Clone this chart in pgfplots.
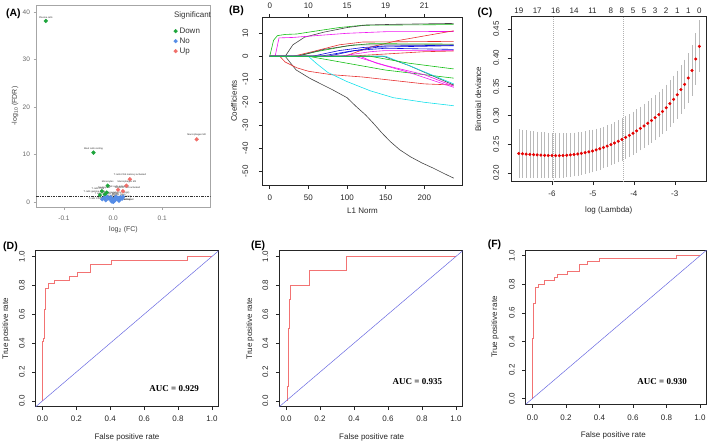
\documentclass[border=0pt]{standalone}
\usepackage{fontspec}
\setmainfont{Liberation Sans}
\newfontfamily\serifb{Liberation Serif}
\usepackage{pgfplots}
\pgfplotsset{compat=1.18}
\usepackage{pgfplotstable}

\definecolor{gDown}{RGB}{30,165,60}
\definecolor{bNo}{RGB}{85,140,230}
\definecolor{rUp}{RGB}{240,110,105}
\definecolor{rocred}{RGB}{242,115,115}
\definecolor{rocblue}{RGB}{105,105,225}
\definecolor{Rgreen}{RGB}{20,190,20}
\definecolor{Rred}{RGB}{230,50,50}
\definecolor{Rmag}{RGB}{240,20,240}
\definecolor{Rcyan}{RGB}{20,225,235}
\definecolor{Rblue}{RGB}{10,10,220}
\definecolor{Rblack}{RGB}{70,70,70}

\newcommand{\fs}[1]{\fontsize{#1}{#1}\selectfont}

\pgfplotsset{
  rbase/.style={scale only axis, axis line style={black!85, line width=0.5pt},
    tick align=outside, tick pos=left, major tick length=3.5pt,
    tick style={black!85, line width=0.5pt},
    tick label style={font=\fs{8}, text=black!85},
    yticklabel style={rotate=90, anchor=south},
    /pgf/number format/assume math mode=true},
  rocax/.style={rbase, xmin=-0.04, xmax=1.04, ymin=-0.04, ymax=1.04,
    xtick={0,0.2,0.4,0.6,0.8,1}, xticklabels={0.0,0.2,0.4,0.6,0.8,1.0},
    ytick={0,0.2,0.4,0.6,0.8,1}, yticklabels={0.0,0.2,0.4,0.6,0.8,1.0},
    yticklabel shift=4pt, xticklabel shift=2pt},
  bline/.style={line width=0.6pt, line join=round}
}

\pgfplotstableread{
x y e
-6.81 0.2340 0.0390
-6.72 0.2336 0.0387
-6.63 0.2331 0.0383
-6.54 0.2326 0.0380
-6.45 0.2321 0.0377
-6.36 0.2317 0.0373
-6.27 0.2313 0.0370
-6.18 0.2309 0.0367
-6.09 0.2307 0.0363
-6.00 0.2305 0.0360
-5.91 0.2304 0.0358
-5.82 0.2304 0.0356
-5.73 0.2306 0.0355
-5.64 0.2310 0.0353
-5.55 0.2316 0.0351
-5.46 0.2323 0.0349
-5.37 0.2332 0.0347
-5.28 0.2343 0.0345
-5.19 0.2355 0.0344
-5.10 0.2369 0.0342
-5.01 0.2385 0.0340
-4.92 0.2403 0.0338
-4.83 0.2423 0.0335
-4.74 0.2445 0.0333
-4.65 0.2469 0.0330
-4.56 0.2495 0.0332
-4.47 0.2523 0.0333
-4.38 0.2553 0.0335
-4.29 0.2585 0.0337
-4.20 0.2619 0.0338
-4.11 0.2655 0.0340
-4.02 0.2693 0.0343
-3.93 0.2733 0.0346
-3.84 0.2775 0.0349
-3.75 0.2819 0.0352
-3.66 0.2865 0.0355
-3.57 0.2913 0.0358
-3.48 0.2963 0.0361
-3.39 0.3015 0.0364
-3.30 0.3070 0.0367
-3.21 0.3135 0.0370
-3.12 0.3205 0.0376
-3.03 0.3280 0.0381
-2.94 0.3360 0.0387
-2.85 0.3450 0.0392
-2.76 0.3540 0.0398
-2.67 0.3650 0.0403
-2.58 0.3780 0.0409
-2.49 0.3980 0.0414
-2.40 0.4200 0.0420
}\cvtab

\begin{document}
\begin{tikzpicture}
\useasboundingbox (0,0) rectangle (709pt,-444pt);

% ---------------- (A) volcano ----------------
\begin{axis}[scale only axis, at={(36pt,-5.3pt)}, anchor=north west,
  width=174.7pt, height=202pt,
  xmin=-0.157, xmax=0.1986, ymin=-1.1, ymax=41.4,
  axis line style={black!35, line width=0.5pt},
  tick align=outside, tick pos=left, major tick length=2.5pt,
  tick style={black!35, line width=0.5pt},
  tick label style={font=\fs{6.5}, text=black!60},
  /pgf/number format/assume math mode=true,
  xtick={-0.1,0,0.1}, xticklabels={-0.1,0.0,0.1}, xticklabel shift=3pt,
  ytick={0,10,20,30,40},
  legend style={at={(rel axis cs:0.77,0.91)}, anchor=north west, draw=none, fill=none,
    font=\fs{8}, text=black!80, row sep=-1pt},
  legend cell align=left,
  legend image code/.code={\draw[mark repeat=2,mark phase=2,#1] plot coordinates {(0cm,0cm)(0.12cm,0cm)(0.24cm,0cm)};}
]
\addplot[only marks, mark=*, mark size=1.9pt, gDown] coordinates {
(-0.137,38.1) (-0.040,10.4) (-0.011,3.45) (-0.023,2.3) (-0.013,2.0) (-0.027,1.45) (-0.017,1.6)};
\addlegendentry{Down}
\addplot[only marks, mark=*, mark size=1.9pt, bNo] coordinates {
(-0.018,0.9) (-0.012,1.1) (-0.008,0.7) (-0.005,1.0) (-0.002,0.4) (0,0.2) (0.001,0.1)
(0.002,0.5) (0.004,0.8) (0.006,1.1) (0.008,0.6) (0.010,0.9) (0.012,0.3) (0.015,1.0)
(-0.022,0.6) (-0.015,0.4) (0.018,0.7) (0.020,1.1) (0.003,0.3) (-0.003,0.15) (0.0,0.05)};
\addlegendentry{No}
\addplot[only marks, mark=*, mark size=1.9pt, rUp] coordinates {
(0.170,13.2) (0.034,4.8) (0.027,3.45) (0.020,2.3) (0.010,2.6)};
\addlegendentry{Up}
\addplot[black!80, line width=0.5pt, dash pattern=on 2.5pt off 1.2pt on 0.6pt off 1.2pt, forget plot]
  coordinates {(-0.157,1.3) (0.1986,1.3)};
\begin{scope}[every node/.style={font=\fs{2.4}, text=black!85, inner sep=0.3pt, anchor=south}]
\node at (axis cs:-0.137,38.6) {Plasma cells};
\node at (axis cs:-0.040,10.9) {Mast cells resting};
\node at (axis cs:0.170,13.7) {Macrophages M0};
\node at (axis cs:0.034,5.3) {T cells CD4 memory activated};
\node at (axis cs:-0.011,3.95) {Monocytes};
\node at (axis cs:0.028,3.95) {Macrophages M1};
\node at (axis cs:0.029,2.75) {Dendritic cells activated};
\node at (axis cs:0.012,3.05) {NK cells activated};
\node at (axis cs:-0.031,2.45) {T cells CD8};
\node at (axis cs:-0.018,2.6) {Neutrophils};
\node at (axis cs:-0.038,1.75) {T cells gamma delta};
\node at (axis cs:0.012,1.2) {B cells naive};
\node at (axis cs:-0.006,1.0) {Eosinophils};
\node at (axis cs:0.020,0.8) {NK cells resting};
\node at (axis cs:-0.012,0.7) {T cells CD4 naive};
\node at (axis cs:0.008,0.5) {B cells memory};
\node at (axis cs:0.020,0.3) {Mast cells activated};
\node at (axis cs:-0.004,0.2) {Macrophages M2};
\node at (axis cs:0.012,0.05) {Dendritic cells resting};
\node at (axis cs:-0.013,1.35) {T cells follicular helper};
\node at (axis cs:0.006,1.55) {T cells regulatory (Tregs)};
\node at (axis cs:-0.020,0.4) {T cells CD4 memory resting};
\end{scope}
\node[font=\fs{8}, text=black!80, anchor=west] at (rel axis cs:0.77,0.948) {Significant};
\end{axis}
\node[rotate=90, font=\fs{7}, text=black!75] at (15pt,-106pt) {-log\textsubscript{10} (FDR)};
\node[font=\fs{7}, text=black!75] at (123.5pt,-230pt) {log\textsubscript{2} (FC)};

% ---------------- (B) coefficient paths ----------------
\begin{axis}[rbase, at={(262.3pt,-17.3pt)}, anchor=north west, width=200.4pt, height=168pt,
  xmin=-9.6, xmax=249.6, ymin=-56.1, ymax=16.96,
  xtick={0,50,100,150,200}, xticklabel shift=3pt,
  ytick={-50,-40,-30,-20,-10,0,10}, yticklabels={-50,-40,-30,-20,-10,0,10},
  yticklabel shift=7pt]
\addplot[bline, Rgreen] coordinates {(0,0)(5,7)(10,9)(20,9.5)(35,9.7)(60,11)(90,12.5)(120,13.5)(238,13.8)};
\addplot[bline, Rblack] coordinates {(0,0)(20,0)(30,5)(45,8.3)(70,10.5)(100,12.5)(125,13.6)(160,13.9)(238,14.3)};
\addplot[bline, Rmag] coordinates {(0,0)(7,0)(12,8)(30,8.2)(60,9)(100,10)(150,10.7)(238,10.8)};
\addplot[bline, Rred] coordinates {(0,0)(97,0)(130,4)(165,6.8)(238,11.1)};
\addplot[bline, Rred] coordinates {(0,0)(30,0)(55,2)(90,5)(120,6.2)(238,6.5)};
\addplot[bline, Rgreen] coordinates {(0,0)(35,0)(60,2)(100,4.5)(130,5.5)(238,5.3)};
\addplot[bline, Rblack] coordinates {(0,0)(35,0)(70,3)(110,5)(238,5)};
\addplot[bline, Rblue] coordinates {(0,0)(55,0)(90,2.5)(120,3.8)(150,4.5)(238,4.8)};
\addplot[bline, Rblue] coordinates {(0,0)(65,0)(100,2)(140,4)(238,4.6)};
\addplot[bline, Rblue] coordinates {(0,0)(75,0)(110,2.5)(150,3.5)(238,3.0)};
\addplot[bline, Rmag] coordinates {(0,0)(90,0)(130,2)(150,2.5)(238,2.5)};
\addplot[bline, Rred] coordinates {(0,0)(100,0)(150,1)(200,2)(238,2.3)};
\addplot[bline, Rblack] coordinates {(0,0)(20,0)(34,-5.9)(52,-9.6)(82,-14.7)(100,-18)(112,-21.9)(124,-25.5)(134,-29.1)(145,-33.3)(156,-37.1)(168,-40.6)(182,-43.7)(197,-46.4)(212,-48.7)(225,-50.9)(238,-53)};
\addplot[bline, Rred] coordinates {(0,0)(13,0)(20,-2.5)(35,-5)(50,-6.5)(80,-8)(120,-9)(160,-10.5)(200,-12)(238,-12.5)};
\addplot[bline, Rcyan] coordinates {(0,0)(50,0)(60,-3)(75,-7)(100,-11)(130,-15)(160,-18)(200,-20)(238,-21.5)};
\addplot[bline, Rgreen] coordinates {(0,0)(50,0)(100,-3)(150,-6)(238,-9.5)};
\addplot[bline, Rmag] coordinates {(0,0)(117,0)(138,-3)(180,-7)(238,-13.5)};
\addplot[bline, Rmag] coordinates {(0,0)(110,0)(150,-4)(200,-8)(238,-13)};
\addplot[bline, Rblack] coordinates {(0,0)(147,0)(180,-4)(238,-12.5)};
\addplot[bline, Rcyan] coordinates {(0,0)(150,0)(180,-4)(238,-12)};
\addplot[bline, Rgreen] coordinates {(0,0)(130,0)(180,-3)(238,-5.5)};
\end{axis}
\begin{axis}[scale only axis, at={(262.3pt,-17.3pt)}, anchor=north west, width=200.4pt, height=168pt,
  xmin=-9.6, xmax=249.6, ymin=0, ymax=1, axis x line*=top, axis y line=none,
  axis line style={black!85, line width=0.5pt},
  tick align=outside, major tick length=3.5pt, tick style={black!85, line width=0.5pt},
  tick label style={font=\fs{8}, text=black!85}, xticklabel shift=2pt,
  xtick={0,50,100,150,200}, xticklabels={0,10,15,19,21}]
\end{axis}
\node[rotate=90, font=\fs{8}, text=black!85] at (234pt,-101pt) {Coefficients};
\node[font=\fs{8}, text=black!85] at (362.5pt,-210.7pt) {L1 Norm};

% ---------------- (C) cv curve ----------------
\begin{axis}[rbase, at={(511pt,-16.7pt)}, anchor=north west, width=195.7pt, height=164.8pt,
  xmin=-7.0, xmax=-2.22, ymin=0.1855, ymax=0.4714,
  xtick={-6,-5,-4,-3}, xticklabels={-6,-5,-4,-3}, xticklabel shift=2pt,
  ytick={0.2,0.25,0.3,0.35,0.4,0.45}, yticklabels={0.20,0.25,0.30,0.35,0.40,0.45},
  yticklabel shift=5pt]
\addplot[gray!60, line width=0.5pt, dash pattern=on 0.8pt off 1.2pt] coordinates {(-5.98,0.1855)(-5.98,0.4714)};
\addplot[gray!60, line width=0.5pt, dash pattern=on 0.8pt off 1.2pt] coordinates {(-4.25,0.1855)(-4.25,0.4714)};
\addplot[only marks, mark=*, mark size=1.35pt, color=red!90!black,
  error bars/.cd, y dir=both, y explicit,
  error bar style={gray!55, line width=0.4pt},
  error mark options={gray!55, mark size=1.7pt, line width=0.4pt}]
  table[x=x, y=y, y error=e] {\cvtab};
\end{axis}
\begin{axis}[scale only axis, at={(511pt,-16.7pt)}, anchor=north west, width=195.7pt, height=164.8pt,
  xmin=-7.0, xmax=-2.22, ymin=0, ymax=1, axis x line*=top, axis y line=none,
  axis line style={draw=none}, major tick length=0pt, tick style={draw=none},
  tick label style={font=\fs{8}, text=black!85}, xticklabel shift=0pt,
  xtick={-6.81,-6.36,-5.91,-5.46,-5.01,-4.56,-4.29,-4.02,-3.75,-3.48,-3.21,-2.94,-2.67,-2.40},
  xticklabels={19,17,16,14,11,8,8,5,5,3,2,1,1,0}]
\end{axis}
\node[rotate=90, font=\fs{8}, text=black!85] at (478.3pt,-99pt) {Binomial deviance};
\node[font=\fs{8}, text=black!85] at (608.8pt,-210.7pt) {log (Lambda)};

% ---------------- (D) ROC ----------------
\begin{axis}[rocax, at={(35.7pt,-250.7pt)}, anchor=north west, width=183pt, height=156pt]
\addplot[rocred, line width=0.9pt] coordinates {(0,0)(0,0.41)(0.005,0.41)(0.005,0.43)(0.012,0.43)(0.012,0.63)(0.02,0.63)(0.02,0.78)(0.035,0.78)(0.035,0.81)(0.07,0.81)(0.07,0.834)(0.157,0.834)(0.157,0.86)(0.206,0.86)(0.206,0.887)(0.281,0.887)(0.281,0.943)(0.405,0.943)(0.405,0.971)(0.857,0.971)(0.857,1)(1,1)};
\addplot[rocblue, line width=0.5pt] coordinates {(-0.04,-0.04)(1.04,1.04)};
\node[font=\serifb\bfseries\fs{9}] at (axis cs:0.777,0.088) {AUC = 0.929};
\end{axis}
\node[rotate=90, font=\fs{8}, text=black!85] at (6pt,-328.7pt) {True positive rate};
\node[font=\fs{8}, text=black!85] at (127pt,-437pt) {False positive rate};

% ---------------- (E) ROC ----------------
\begin{axis}[rocax, at={(279.3pt,-250.7pt)}, anchor=north west, width=183.4pt, height=156pt, xticklabel shift=2.5pt]
\addplot[rocred, line width=0.9pt] coordinates {(0.008,0)(0.008,0.1)(0.012,0.1)(0.012,0.2)(0.016,0.2)(0.016,0.5)(0.02,0.5)(0.02,0.7)(0.027,0.7)(0.027,0.8)(0.136,0.8)(0.136,0.9)(0.358,0.9)(0.358,1)(1,1)};
\addplot[rocblue, line width=0.5pt] coordinates {(-0.04,-0.04)(1.04,1.04)};
\node[font=\serifb\bfseries\fs{9}] at (axis cs:0.773,0.131) {AUC = 0.935};
\end{axis}
\node[rotate=90, font=\fs{8}, text=black!85] at (250pt,-328.7pt) {True positive rate};
\node[font=\fs{8}, text=black!85] at (371.7pt,-437.7pt) {False positive rate};

% ---------------- (F) ROC ----------------
\begin{axis}[rocax, at={(525.7pt,-250pt)}, anchor=north west, width=181pt, height=154.3pt, xticklabel shift=4pt]
\addplot[rocred, line width=0.9pt] coordinates {(0,0)(0,0.42)(0.008,0.42)(0.008,0.668)(0.018,0.668)(0.018,0.778)(0.038,0.778)(0.038,0.80)(0.07,0.80)(0.07,0.824)(0.133,0.824)(0.133,0.845)(0.149,0.845)(0.149,0.868)(0.208,0.868)(0.208,0.891)(0.283,0.891)(0.283,0.938)(0.331,0.938)(0.331,0.957)(0.40,0.957)(0.40,0.978)(0.857,0.978)(0.857,1)(1,1)};
\addplot[rocblue, line width=0.5pt] coordinates {(-0.04,-0.04)(1.04,1.04)};
\node[font=\serifb\bfseries\fs{9}] at (axis cs:0.774,0.119) {AUC = 0.930};
\end{axis}
\node[rotate=90, font=\fs{8}, text=black!85] at (495pt,-327pt) {True positive rate};
\node[font=\fs{8}, text=black!85] at (613.3pt,-435pt) {False positive rate};

% panel letters
\begin{scope}[every node/.style={font=\bfseries\fs{10.5}}]
\node at (13.3pt,-13.3pt) {(A)};
\node at (236.5pt,-11pt) {(B)};
\node at (485pt,-12.5pt) {(C)};
\node at (10.5pt,-246.7pt) {(D)};
\node at (258pt,-246pt) {(E)};
\node at (494.5pt,-245pt) {(F)};
\end{scope}
\end{tikzpicture}
\end{document}
